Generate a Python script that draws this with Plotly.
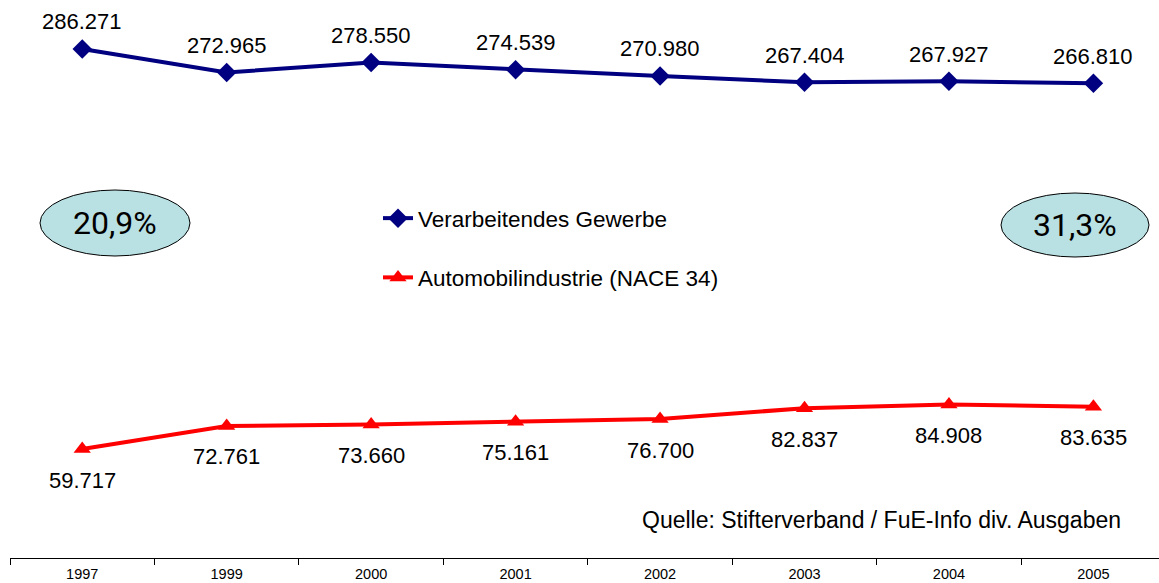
import plotly.graph_objects as go

years = ["1997", "1999", "2000", "2001", "2002", "2003", "2004", "2005"]
verarbeitend = [286271, 272965, 278550, 274539, 270980, 267404, 267927, 266810]
automobil = [59717, 72761, 73660, 75161, 76700, 82837, 84908, 83635]
series_names = ["Verarbeitendes Gewerbe", "Automobilindustrie (NACE 34)"]
share_labels = ["20,9%", "31,3%"]
source_text = "Quelle: Stifterverband / FuE-Info div. Ausgaben"

W, H = 1159, 583
ML, MR, MT, MB = 10, 0, 0, 25
PW = W - ML - MR
PH = H - MT - MB


def px(xp):
    return (xp - ML) / PW


def py(yp):
    return (H - MB - yp) / PH


def de(v):
    return f"{v:,}".replace(",", ".")


FONT = "Liberation Sans, Arial, sans-serif"

fig = go.Figure()
fig.add_trace(go.Scatter(
    x=years, y=verarbeitend, name=series_names[0], mode="lines+markers",
    line=dict(color="#000080", width=4),
    marker=dict(symbol="diamond", size=15, color="#000080"),
    legendgroup="a", hoverinfo="skip",
))
fig.add_trace(go.Scatter(
    x=years, y=automobil, name=series_names[1], mode="lines+markers",
    line=dict(color="#FF0000", width=4),
    marker=dict(symbol="triangle-up", size=15, color="#FF0000"),
    legendgroup="b", hoverinfo="skip",
))

annotations = []
for i, v in enumerate(verarbeitend):
    annotations.append(dict(x=i, y=v, xref="x", yref="y", text=de(v),
                            showarrow=False, yshift=27,
                            font=dict(size=22, color="black", family=FONT)))
for i, v in enumerate(automobil):
    annotations.append(dict(x=i, y=v, xref="x", yref="y", text=de(v),
                            showarrow=False, yshift=-31,
                            font=dict(size=22, color="black", family=FONT)))

shapes = []
ellipses = [(40, 190, 190, 256), (1001, 1149, 193, 257)]
for (x0, x1, y0, y1), lab in zip(ellipses, share_labels):
    shapes.append(dict(type="circle", xref="paper", yref="paper",
                       x0=px(x0), x1=px(x1), y0=py(y1), y1=py(y0),
                       fillcolor="#B9E0E3", line=dict(color="black", width=1),
                       layer="below"))
    annotations.append(dict(xref="paper", yref="paper", x=px((x0 + x1) / 2),
                            y=py((y0 + y1) / 2), text=lab, showarrow=False,
                            xanchor="center", yanchor="middle",
                            font=dict(size=32, color="black", family="Roboto, sans-serif")))

annotations.append(dict(xref="paper", yref="paper", x=px(1123), y=py(520),
                        text=source_text, showarrow=False, xanchor="right",
                        yanchor="middle",
                        font=dict(size=23, color="black", family=FONT)))

fig.update_layout(
    width=W, height=H,
    margin=dict(l=ML, r=MR, t=MT, b=MB, pad=0),
    paper_bgcolor="white", plot_bgcolor="white",
    showlegend=True,
    legend=dict(x=px(378), y=py(197), xanchor="left", yanchor="top",
                bgcolor="rgba(0,0,0,0)", tracegroupgap=27,
                font=dict(size=22.5, color="black", family=FONT),
                itemwidth=30),
    annotations=annotations,
    shapes=shapes,
    xaxis=dict(type="category", range=[-0.5, 7.454], showline=True,
               linecolor="black", linewidth=1, ticks="outside", ticklen=6,
               tickcolor="black", tickson="boundaries", showgrid=False,
               zeroline=False, fixedrange=True, ticklabelstandoff=3,
               tickfont=dict(size=14.5, color="black", family=FONT)),
    yaxis=dict(range=[-2000, 314000], visible=False, showgrid=False,
               zeroline=False, fixedrange=True),
)

fig.write_html("out.html", config={"displayModeBar": False},
               post_script="document.body.style.margin='0px';document.body.style.overflow='hidden';")
